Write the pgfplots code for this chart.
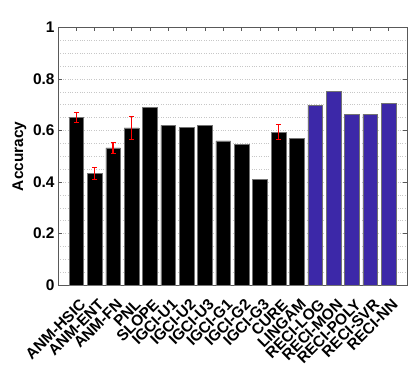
\documentclass[border=0pt]{standalone}
\usepackage{fontspec}
\setmainfont{Liberation Sans}
\usepackage{pgfplots}
\pgfplotsset{compat=1.18}
\definecolor{reciblue}{RGB}{60,40,168}
\begin{document}
\begin{tikzpicture}
\useasboundingbox (-58bp,-85bp) rectangle (357bp,285bp);
\begin{axis}[
  scale only axis,
  width=349bp, height=257.5bp,
  xmin=0, xmax=19, ymin=0, ymax=1,
  xtick={1,...,18},
  xticklabels={ANM-HSIC,ANM-ENT,ANM-FN,PNL,SLOPE,IGCI-U1,IGCI-U2,IGCI-U3,IGCI-G1,IGCI-G2,IGCI-G3,CURE,LINGAM,RECI-LOG,RECI-MON,RECI-POLY,RECI-SVR,RECI-NN},
  ytick={0,0.2,0.4,0.6,0.8,1},
  minor y tick num=3,
  ymajorgrids, yminorgrids,
  major grid style={dotted, black!22, line width=0.5pt},
  minor grid style={dotted, black!22, line width=0.5pt},
  tick align=inside,
  major tick length=4bp, minor tick length=0pt,
  axis line style={black!65, line width=0.6pt},
  tick style={black!65, line width=0.6pt},
  /pgf/number format/assume math mode=true,
  yticklabel style={font=\fontsize{15.5}{17}\selectfont\bfseries},
  xticklabel style={font=\fontsize{15.5}{17}\selectfont\bfseries, inner sep=0pt, xshift=6.5bp, yshift=-17bp, rotate=45, anchor=east},
  ylabel={Accuracy},
  ylabel style={font=\fontsize{15.5}{17}\selectfont\bfseries, at={(axis description cs:0,0.5)}, anchor=center, yshift=38.5bp},
]
\addplot[ybar, bar width=0.8, bar shift=0pt, fill=black, draw=black!55, line width=0.5pt] coordinates {
 (1,0.650) (2,0.434) (3,0.533) (4,0.610) (5,0.690) (6,0.620) (7,0.612)
 (8,0.619) (9,0.560) (10,0.546) (11,0.410) (12,0.594) (13,0.568)
};
\addplot[ybar, bar width=0.8, bar shift=0pt, fill=reciblue, draw=black!55, line width=0.5pt] coordinates {
 (14,0.699) (15,0.752) (16,0.664) (17,0.663) (18,0.704)
};
\addplot[draw=none, mark=none,
  error bars/.cd, y dir=both, y explicit,
  error bar style={draw=red, solid, line width=1.3pt},
  error mark options={draw=red, solid, line width=1pt, mark size=2.6bp, rotate=90}]
  coordinates {
 (1,0.650) +- (0,0.018)
 (2,0.434) +- (0,0.023)
 (3,0.533) +- (0,0.022)
 (4,0.610) +- (0,0.046)
 (12,0.595) +- (0,0.030)
};
\end{axis}
\end{tikzpicture}
\end{document}
